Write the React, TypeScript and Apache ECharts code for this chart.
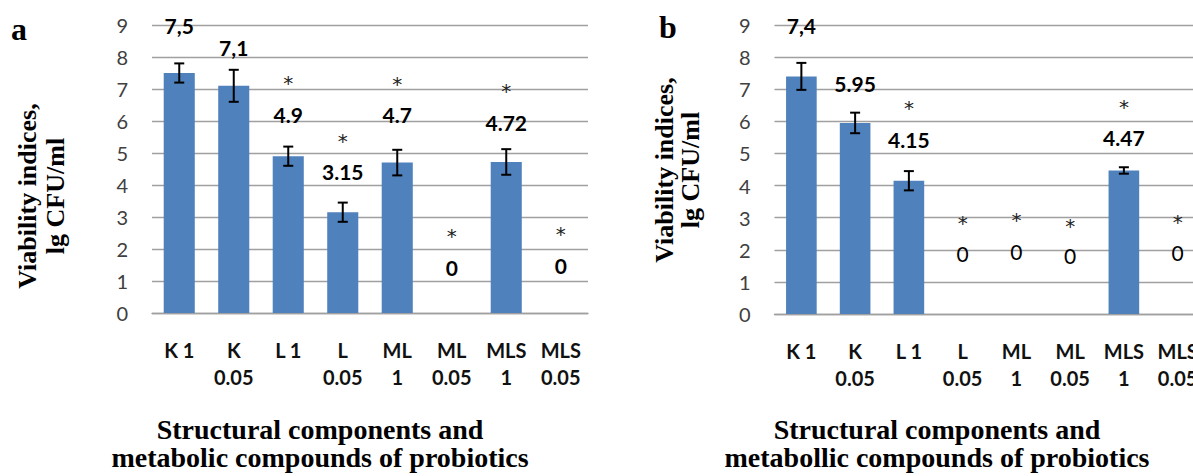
import React, { useEffect, useRef } from "react";
import * as echarts from "echarts";

const categories = ["K 1", "K\n0.05", "L 1", "L\n0.05", "ML\n1", "ML\n0.05", "MLS\n1", "MLS\n0.05"];
const yTicks = [0, 1, 2, 3, 4, 5, 6, 7, 8, 9];

const valuesA = [7.5, 7.1, 4.9, 3.15, 4.7, 0, 4.72, 0];
const errorsA = [0.3, 0.5, 0.3, 0.3, 0.4, 0, 0.4, 0];
const labelTextA = ["7,5", "7,1", "4.9", "3.15", "4.7", "0", "4.72", "0"];
const labelAtA = [9.0, 8.3, 6.2, 4.43, 6.2, 1.42, 5.96, 1.5];
const starAtA = [null, null, 7.34, 5.54, 7.32, 2.57, 7.1, 2.63];

const valuesB = [7.4, 5.95, 4.15, 0, 0, 0, 4.47, 0];
const errorsB = [0.42, 0.32, 0.3, 0, 0, 0, 0.1, 0];
const labelTextB = ["7,4", "5.95", "4.15", "0", "0", "0", "4.47", "0"];
const labelAtB = [9.0, 7.17, 5.42, 1.89, 1.94, 1.81, 5.5, 1.91];
const starAtB = [null, null, 6.56, 2.98, 3.08, 2.9, 6.61, 3.03];

const panelLetters = ["a", "b"];
const xTitleA = ["Structural components and", "metabolic compounds of probiotics"];
const xTitleB = ["Structural components and", "metabollic compounds of probiotics"];
const yTitle = ["Viability indices,", "lg CFU/ml"];

const SANS = "Lato, 'Noto Sans', sans-serif";
const SERIF = "'Liberation Serif', 'DejaVu Serif', serif";
const BLUE = "#4f81bd";
const GRIDC = "#a0a0a0";

function errorSeries(idx: number, values: number[], errors: number[]) {
  return {
    type: "custom",
    xAxisIndex: idx,
    yAxisIndex: idx,
    z: 5,
    silent: true,
    encode: { x: 0, y: 1 },
    data: values.map((v, i) => [i, v, errors[i]]),
    renderItem: (params: any, api: any) => {
      const i = api.value(0);
      const v = api.value(1);
      const e = api.value(2);
      if (!e) return null;
      const top = api.coord([i, v + e]);
      const bot = api.coord([i, v - e]);
      const w = 5;
      const st = { stroke: "#000", lineWidth: 2 };
      return {
        type: "group",
        children: [
          { type: "line", shape: { x1: top[0], y1: top[1], x2: bot[0], y2: bot[1] }, style: st },
          { type: "line", shape: { x1: top[0] - w, y1: top[1], x2: top[0] + w, y2: top[1] }, style: st },
          { type: "line", shape: { x1: bot[0] - w, y1: bot[1], x2: bot[0] + w, y2: bot[1] }, style: st },
        ],
      };
    },
  };
}

function textSeries(
  idx: number,
  texts: string[],
  pos: (number | null)[],
  fontFor: (t: string) => string,
  fill: string,
  dy: number
) {
  return {
    type: "custom",
    xAxisIndex: idx,
    yAxisIndex: idx,
    z: 6,
    silent: true,
    encode: { x: 0, y: 1 },
    data: pos.map((p, i) => [i, p == null ? NaN : p]),
    renderItem: (params: any, api: any) => {
      const i = api.value(0);
      const p = api.value(1);
      if (p == null || isNaN(p)) return null;
      const pt = api.coord([i, p]);
      const t = texts[params.dataIndex];
      return {
        type: "text",
        x: pt[0],
        y: pt[1] + dy,
        style: {
          text: t,
          font: fontFor(t),
          fill,
          align: "center",
          verticalAlign: "middle",
          textAlign: "center",
          textVerticalAlign: "middle",
        },
      };
    },
  };
}

function makeAxes(idx: number) {
  return {
    x: {
      type: "category",
      gridIndex: idx,
      data: categories,
      axisLine: { show: true, lineStyle: { color: GRIDC, width: 1.3 } },
      axisTick: { show: false },
      axisLabel: {
        interval: 0,
        margin: 23,
        fontFamily: SANS,
        fontSize: 20,
        fontWeight: "bold",
        lineHeight: 27,
        color: "#111",
      },
    },
    y: {
      type: "value",
      gridIndex: idx,
      min: yTicks[0],
      max: yTicks[yTicks.length - 1],
      interval: 1,
      axisLine: { show: false },
      axisTick: { show: false },
      splitLine: { lineStyle: { color: GRIDC, width: 1.3 } },
      axisLabel: {
        margin: 24,
        fontFamily: SANS,
        fontSize: 20,
        color: "#404040",
      },
    },
  };
}

export default function App() {
  const ref = useRef<HTMLDivElement>(null);
  useEffect(() => {
    document.body.style.margin = "0";
    document.body.style.overflow = "hidden";
    document.documentElement.style.overflow = "hidden";
    if (!ref.current) return;
    const chart = echarts.init(ref.current, null, { renderer: "svg" });
    const axA = makeAxes(0);
    const axB = makeAxes(1);
    const titleText = (x: number, y: number, t: string, size: number) => ({
      type: "text",
      x,
      y,
      style: {
        text: t,
        font: `bold ${size}px ${SERIF}`,
        fill: "#000",
        textAlign: "center",
        textVerticalAlign: "middle",
      },
    });
    const rotText = (x: number, y: number, t: string) => ({
      type: "text",
      x,
      y,
      rotation: Math.PI / 2,
      style: {
        text: t,
        font: `bold 26px ${SERIF}`,
        fill: "#000",
        textAlign: "center",
        textVerticalAlign: "middle",
      },
    });
    const boldAll = () => `bold 21px ${SANS}`;
    const boldExceptZero = (t: string) => (t === "0" ? `normal 21px ${SANS}` : `bold 21px ${SANS}`);
    const starFont = () => `normal 20px 'DejaVu Sans', sans-serif`;
    chart.setOption({
      animation: false,
      grid: [
        { left: 152, top: 25, width: 436, height: 288 },
        { left: 774.5, top: 25, width: 430, height: 289 },
      ],
      xAxis: [axA.x, axB.x],
      yAxis: [axA.y, axB.y],
      series: [
        {
          type: "bar",
          xAxisIndex: 0,
          yAxisIndex: 0,
          data: valuesA,
          barCategoryGap: "43%",
          itemStyle: { color: BLUE },
          silent: true,
        },
        {
          type: "bar",
          xAxisIndex: 1,
          yAxisIndex: 1,
          data: valuesB,
          barCategoryGap: "43%",
          itemStyle: { color: BLUE },
          silent: true,
        },
        errorSeries(0, valuesA, errorsA),
        errorSeries(1, valuesB, errorsB),
        textSeries(0, labelTextA, labelAtA, boldAll, "#000", 0),
        textSeries(1, labelTextB, labelAtB, boldExceptZero, "#000", 0),
        textSeries(0, categories.map(() => "*"), starAtA, starFont, "#222", 5),
        textSeries(1, categories.map(() => "*"), starAtB, starFont, "#222", 5),
      ],
      graphic: [
        titleText(19, 29, panelLetters[0], 32),
        titleText(668, 27, panelLetters[1], 32),
        titleText(320, 429, xTitleA[0], 28),
        titleText(320, 457, xTitleA[1], 28),
        titleText(937, 429, xTitleB[0], 28),
        titleText(937, 457, xTitleB[1], 28),
        rotText(27, 196, yTitle[0]),
        rotText(55, 196, yTitle[1]),
        rotText(664, 170, yTitle[0]),
        rotText(690, 170, yTitle[1]),
      ],
    });
    return () => chart.dispose();
  }, []);
  return <div ref={ref} style={{ width: 1215, height: 476 }} />;
}
